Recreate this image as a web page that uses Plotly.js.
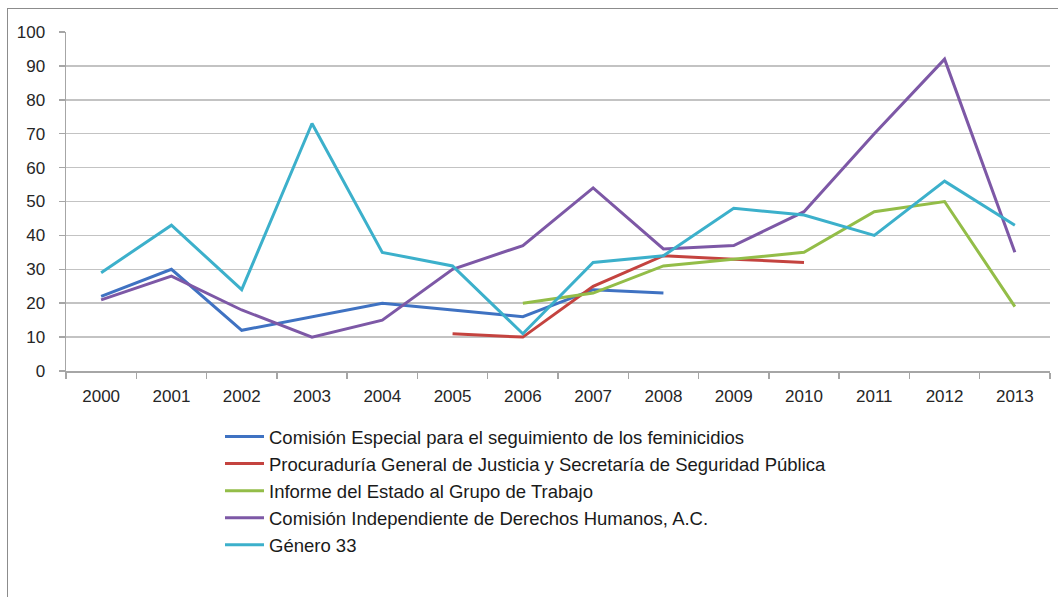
<!DOCTYPE html>
<html>
<head>
<meta charset="utf-8">
<script src="https://cdn.plot.ly/plotly-3.0.1.min.js"></script>
<style>
  html, body { margin: 0; padding: 0; background: #fff; overflow: hidden; }
  #frame { position: absolute; left: 7px; top: 8px; width: 1100px; height: 700px; border: 1px solid #8c8c8c; box-sizing: border-box; }
  #chart { position: absolute; left: 0; top: 0; width: 1058px; height: 597px; }
</style>
</head>
<body>
<div id="frame"></div>
<div id="chart"></div>
<script>
const years = ['2000','2001','2002','2003','2004','2005','2006','2007','2008','2009','2010','2011','2012','2013'];

const seriesNames = [
  'Comisión Especial para el seguimiento de los feminicidios',
  'Procuraduría General de Justicia y Secretaría de Seguridad Pública',
  'Informe del Estado al Grupo de Trabajo',
  'Comisión Independiente de Derechos Humanos, A.C.',
  'Género 33'
];

const comisionEspecial = [22, 30, 12, 16, 20, 18, 16, 24, 23, null, null, null, null, null];
const procuraduria     = [null, null, null, null, null, 11, 10, 25, 34, 33, 32, null, null, null];
const informeEstado    = [null, null, null, null, null, null, 20, 23, 31, 33, 35, 47, 50, 19];
const comisionIndep    = [21, 28, 18, 10, 15, 30, 37, 54, 36, 37, 47, 70, 92, 35];
const genero33         = [29, 43, 24, 73, 35, 31, 11, 32, 34, 48, 46, 40, 56, 43];

const seriesValues = [comisionEspecial, procuraduria, informeEstado, comisionIndep, genero33];
const colors = ['#3f72c2', '#c4433f', '#93bd48', '#7d58a6', '#3cb0cb'];

const traces = seriesValues.map((vals, i) => ({
  type: 'scatter',
  mode: 'lines',
  x: years,
  y: vals,
  name: seriesNames[i],
  legendgroup: 'g' + i,
  connectgaps: false,
  line: { color: colors[i], width: 3 },
  hoverinfo: 'x+y+name'
}));

const layout = {
  width: 1058,
  height: 597,
  paper_bgcolor: 'rgba(0,0,0,0)',
  plot_bgcolor: 'rgba(0,0,0,0)',
  margin: { l: 66, r: 8, t: 32, b: 226 },
  font: { family: '"Liberation Sans", Arial, sans-serif', size: 17, color: '#262626' },
  showlegend: true,
  legend: {
    x: (220 - 66) / 984,
    y: (371 - 418) / 339,
    xanchor: 'left',
    yanchor: 'top',
    traceorder: 'grouped',
    tracegroupgap: 0,
    font: { size: 18.5, color: '#1a1a1a' },
    bgcolor: 'rgba(0,0,0,0)',
    borderwidth: 0,
    itemwidth: 39
  },
  xaxis: {
    type: 'category',
    range: [-0.5, 13.5],
    showgrid: false,
    zeroline: false,
    showline: true,
    linecolor: '#a6a6a6',
    linewidth: 1.5,
    ticks: 'outside',
    tickson: 'boundaries',
    ticklen: 6,
    tickcolor: '#a6a6a6',
    tickwidth: 1.5,
    tickangle: 0,
    ticklabelstandoff: 9,
    tickfont: { size: 17, color: '#262626' },
    fixedrange: true
  },
  yaxis: {
    range: [0, 100],
    dtick: 10,
    tick0: 0,
    showgrid: true,
    gridcolor: '#c3c3c3',
    gridwidth: 1.5,
    zeroline: false,
    showline: true,
    linecolor: '#a6a6a6',
    linewidth: 1.5,
    ticks: 'outside',
    ticklen: 6,
    tickcolor: '#a6a6a6',
    tickwidth: 1.5,
    ticklabelstandoff: 10,
    tickfont: { size: 17, color: '#262626' },
    fixedrange: true
  }
};

Plotly.newPlot('chart', traces, layout, { displayModeBar: false, staticPlot: true });
</script>
</body>
</html>
